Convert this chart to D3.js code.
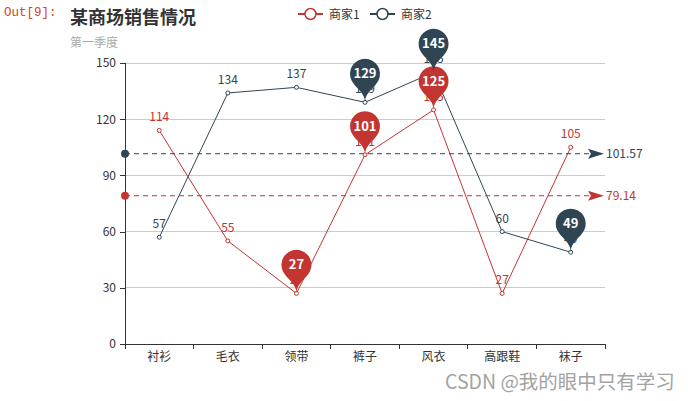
<!DOCTYPE html>
<html><head><meta charset="utf-8">
<script src="https://cdn.jsdelivr.net/npm/d3@7"></script>
<style>body{margin:0;background:#fff}svg{display:block}</style>
</head><body>
<svg id="c" width="688" height="401"></svg>
<script>
const categories = ["衬衫","毛衣","领带","裤子","风衣","高跟鞋","袜子"];
const seriesNames = ["商家1","商家2"];
const values1 = [114,55,27,101,125,27,105];
const values2 = [57,134,137,129,145,60,49];
const markIdx1 = [3,4,2];
const markIdx2 = [3,4,6];
const yTicks = [0,30,60,90,120,150];
const colors = ["#c23531","#2f4554"];
const font = "'Noto Sans CJK SC','Noto Sans',sans-serif";

const svg = d3.select("#c");
const x = d3.scaleBand().domain(categories).range([125,605]);
const y = d3.scaleLinear().domain([0,150]).range([344,63]);

// prompt
svg.append("text").attr("x",4).attr("y",16).attr("font-family","'Liberation Mono',monospace")
  .attr("font-size",12.5).attr("fill","#d84315").text("Out[9]:");
// title
svg.append("text").attr("x",70).attr("y",24).attr("font-family",font).attr("font-size",18)
  .attr("font-weight","bold").attr("fill","#333").text("某商场销售情况");
svg.append("text").attr("x",70).attr("y",47).attr("font-family",font).attr("font-size",12)
  .attr("fill","#aaa").text("第一季度");

// legend
const leg = [{x:298},{x:370}];
seriesNames.forEach((n,i)=>{
  const g = svg.append("g").attr("transform",`translate(${leg[i].x},14)`);
  g.append("line").attr("x1",0).attr("x2",25).attr("y1",0).attr("y2",0).attr("stroke",colors[i]).attr("stroke-width",2);
  g.append("circle").attr("cx",12.5).attr("cy",0).attr("r",5.5).attr("fill","#fff").attr("stroke",colors[i]).attr("stroke-width",1.5);
  g.append("text").attr("x",31).attr("y",4.5).attr("font-family",font).attr("font-size",12).attr("fill","#333").text(n);
});

// grid
svg.append("g").selectAll("line").data(yTicks.filter(d=>d>0)).join("line")
  .attr("x1",125).attr("x2",605).attr("y1",d=>y(d)).attr("y2",d=>y(d))
  .attr("stroke","#ccc").attr("stroke-width",1).attr("shape-rendering","crispEdges");

// axes
const ya = svg.append("g").attr("transform","translate(125,0)")
  .call(d3.axisLeft(y).tickValues(yTicks).tickSize(5).tickPadding(4));
const xa = svg.append("g").attr("transform","translate(0,344)")
  .call(d3.axisBottom(x).tickSize(0).tickPadding(8));
[ya,xa].forEach(a=>{
  a.selectAll("path,line").attr("stroke","#333").attr("shape-rendering","crispEdges");
  a.selectAll("text").attr("font-family",font).attr("font-size",12).attr("fill","#333");
});
xa.select(".domain").attr("d","M125,0H605");
// x boundary ticks
svg.append("g").selectAll("line").data(d3.range(categories.length+1)).join("line")
  .attr("x1",i=>125+i*x.step()).attr("x2",i=>125+i*x.step()).attr("y1",344).attr("y2",349)
  .attr("stroke","#333").attr("shape-rendering","crispEdges");

const seriesData = [values1, values2];
const marks = [markIdx1, markIdx2];
const cx = c => x(c)+x.bandwidth()/2;

// lines
seriesData.forEach((vals,i)=>{
  svg.append("path").datum(vals).attr("fill","none").attr("stroke",colors[i]).attr("stroke-width",1)
    .attr("d", d3.line().x((d,j)=>cx(categories[j])).y(d=>y(d)));
});
// average mark lines
seriesData.forEach((vals,i)=>{
  const avg = d3.mean(vals);
  const yy = y(avg);
  const g = svg.append("g");
  g.append("line").attr("x1",125).attr("x2",596).attr("y1",yy).attr("y2",yy)
    .attr("stroke",colors[i]).attr("stroke-dasharray","5,4").attr("stroke-width",1);
  g.append("circle").attr("cx",125).attr("cy",yy).attr("r",4).attr("fill",colors[i]);
  g.append("path").attr("d",`M${588},${yy-5}L${604},${yy}L${588},${yy+5}L${591},${yy}Z`).attr("fill",colors[i]);
  g.append("text").attr("x",606).attr("y",yy+4.5).attr("font-family",font).attr("font-size",12)
    .attr("fill",colors[i]).text(avg.toFixed(2));
});
// points and labels
seriesData.forEach((vals,i)=>{
  svg.append("g").selectAll("circle").data(vals).join("circle")
    .attr("cx",(d,j)=>cx(categories[j])).attr("cy",d=>y(d)).attr("r",2)
    .attr("fill","#fff").attr("stroke",colors[i]).attr("stroke-width",1);
  svg.append("g").selectAll("text").data(vals).join("text")
    .attr("x",(d,j)=>cx(categories[j])).attr("y",d=>y(d)-9).attr("text-anchor","middle")
    .attr("font-family",font).attr("font-size",12).attr("fill",colors[i]).text(d=>d);
});
// pins
function pinPath(px,py){
  const w=30,h=50,r=w/2;
  const dy=r*r/(h-r), cyy=py-h+r+dy, ang=Math.asin(dy/r);
  const dx=Math.cos(ang)*r, tX=Math.sin(ang), tY=Math.cos(ang), c1=r*0.6, c2=r*0.7;
  const p=d3.path();
  p.moveTo(px-dx,cyy+dy);
  p.arc(px,cyy,r,Math.PI-ang,Math.PI*2+ang);
  p.bezierCurveTo(px+dx-tX*c1,cyy+dy+tY*c1,px,py-c2,px,py);
  p.bezierCurveTo(px,py-c2,px-dx+tX*c1,cyy+dy+tY*c1,px-dx,cyy+dy);
  p.closePath();
  return p.toString();
}
seriesData.forEach((vals,i)=>{
  marks[i].forEach(j=>{
    const px=cx(categories[j]), py=y(vals[j]);
    svg.append("path").attr("d",pinPath(px,py)).attr("fill",colors[i]);
    svg.append("text").attr("x",px).attr("y",py-24).attr("text-anchor","middle")
      .attr("font-family",font).attr("font-size",13).attr("font-weight","bold").attr("fill","#fff").text(vals[j]);
  });
});

// watermark
svg.append("text").attr("x",445).attr("y",389).attr("font-family",font).attr("font-size",19.5)
  .attr("fill","#999").attr("opacity",0.9).text("CSDN @我的眼中只有学习");
</script>
</body></html>
